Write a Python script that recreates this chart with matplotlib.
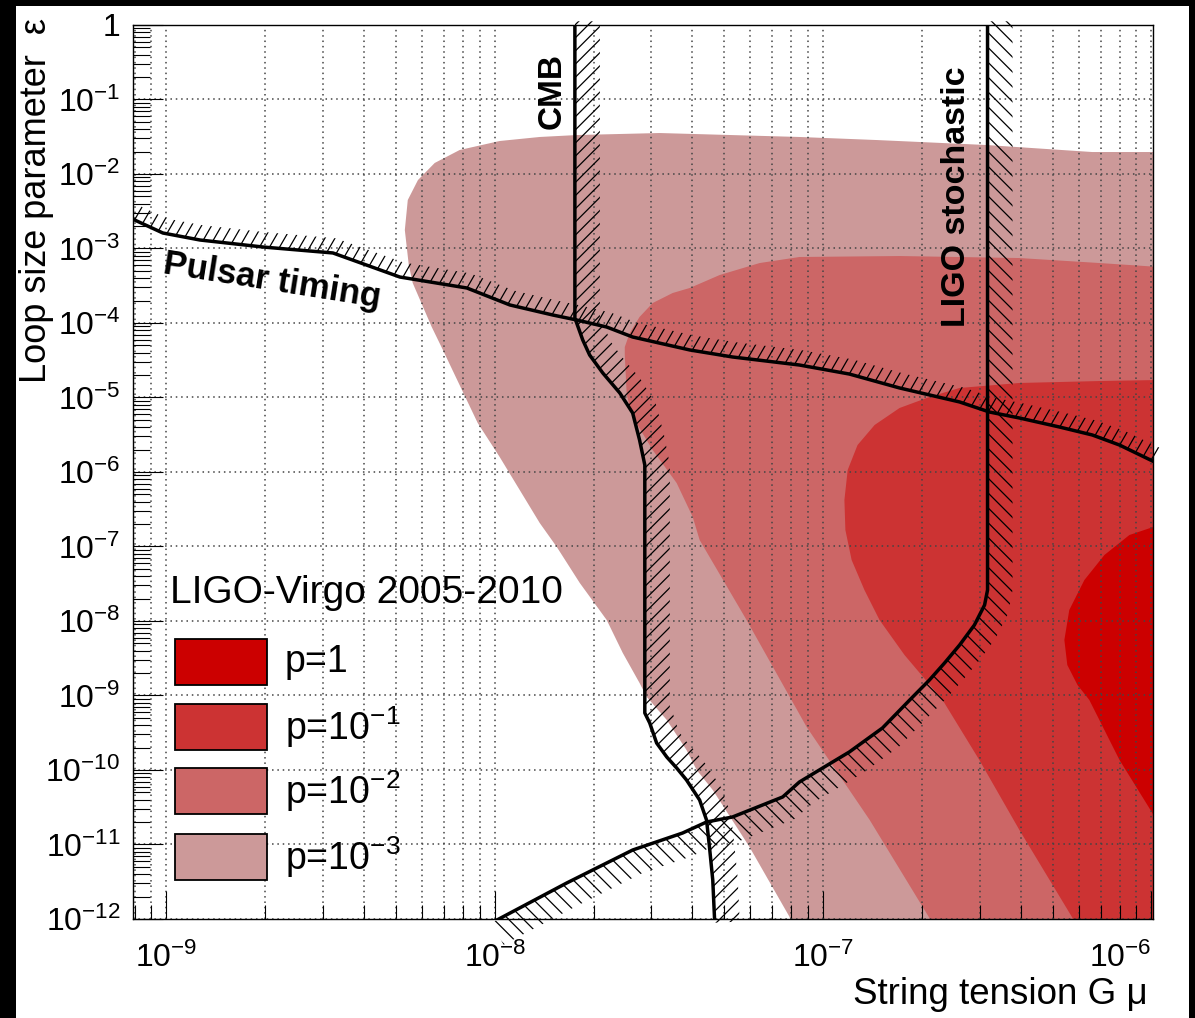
import numpy as np
import matplotlib
matplotlib.use('Agg')
import matplotlib.pyplot as plt
from matplotlib.patches import Polygon, Rectangle
from matplotlib.collections import LineCollection
from matplotlib.ticker import LogLocator, NullFormatter

plt.rcParams['font.family'] = 'Liberation Sans'
plt.rcParams['mathtext.fontset'] = 'custom'
plt.rcParams['mathtext.rm'] = 'Liberation Sans'
plt.rcParams['mathtext.it'] = 'Liberation Sans:italic'
plt.rcParams['mathtext.bf'] = 'Liberation Sans:bold'

# all curves are stored as log10(G mu), log10(epsilon)

# excluded regions (LIGO-Virgo 2005-2010) for each p value
p3_x = [-5.976, -6.180, -6.502, -6.837, -7.072, -7.498, -7.750, -7.863, -7.985, -8.107,
        -8.183, -8.234, -8.265, -8.274, -8.262, -8.250, -8.192, -8.158, -8.100, -8.052,
        -7.985, -7.924, -7.863, -7.811, -7.741, -7.659, -7.610, -7.559, -7.537, -7.476,
        -7.416, -7.385, -7.336, -7.224, -7.102, -7.096, -5.976]
p3_y = [-1.705, -1.705, -1.611, -1.544, -1.503, -1.450, -1.477, -1.503, -1.557, -1.678,
        -1.852, -2.081, -2.349, -2.752, -3.221, -3.463, -4.054, -4.362, -4.899, -5.342,
        -5.799, -6.242, -6.685, -7.007, -7.490, -7.987, -8.430, -8.832, -9.020, -9.329,
        -9.732, -10.000, -10.268, -11.034, -11.973, -12.081, -12.081]

p2_x = [-7.604, -7.604, -7.598, -7.580, -7.519, -7.446, -7.397, -7.376, -7.233, -7.050,
        -6.858, -6.676, -6.661, -5.976, -5.976, -6.158, -6.402, -6.767, -7.072, -7.193,
        -7.315, -7.406, -7.458, -7.519, -7.559, -7.589]
p2_y = [-4.322, -4.430, -4.966, -5.262, -5.705, -6.148, -6.604, -6.913, -7.987, -9.423,
        -10.671, -11.987, -12.081, -12.081, -3.248, -3.195, -3.128, -3.101, -3.114, -3.195,
        -3.356, -3.530, -3.597, -3.732, -3.919, -4.134]

p1_x = [-6.935, -6.932, -6.913, -6.874, -6.828, -6.752, -6.636, -6.524, -6.402, -6.240,
        -6.225, -5.976, -5.976, -6.158, -6.402, -6.584, -6.676, -6.767, -6.843, -6.895,
        -6.925]
p1_y = [-6.376, -6.779, -7.181, -7.584, -7.987, -8.456, -9.060, -9.866, -10.805, -11.987,
        -12.081, -12.081, -4.765, -4.779, -4.805, -4.872, -4.993, -5.141, -5.369, -5.638,
        -5.973]

p0_x = [-5.976, -6.067, -6.143, -6.204, -6.250, -6.265, -6.256, -6.225, -6.189, -6.097,
        -5.997, -5.976]
p0_y = [-6.711, -6.846, -7.114, -7.450, -7.852, -8.255, -8.591, -8.859, -9.060, -9.866,
        -10.577, -10.738]

# other constraints
pulsar_x = [-9.110, -9.011, -8.898, -8.706, -8.493, -8.289, -8.085, -7.954, -7.823, -7.750,
            -7.659, -7.580, -7.406, -7.276, -7.072, -6.920, -6.767, -6.584, -6.493, -6.402,
            -6.280, -6.180, -6.097, -5.990]
pulsar_y = [-2.591, -2.792, -2.886, -2.980, -3.060, -3.383, -3.530, -3.758, -3.893, -3.960,
            -4.054, -4.188, -4.362, -4.456, -4.564, -4.685, -4.872, -5.060, -5.195, -5.275,
            -5.396, -5.503, -5.638, -5.866]

cmb_x = [-7.756, -7.756, -7.732, -7.711, -7.671, -7.619, -7.580, -7.559, -7.543, -7.543,
         -7.528, -7.507, -7.476, -7.446, -7.416, -7.376, -7.355, -7.346, -7.336, -7.330]
cmb_y = [0.05, -3.933, -4.228, -4.430, -4.671, -4.940, -5.208, -5.570, -5.906, -9.235,
         -9.369, -9.638, -9.826, -9.973, -10.134, -10.403, -10.671, -11.034, -11.477, -12.05]

ligo_x = [-6.499, -6.499, -6.508, -6.539, -6.584, -6.630, -6.676, -6.736, -6.819, -6.920,
          -6.971, -7.072, -7.123, -7.276, -7.355, -7.428, -7.580, -7.781, -8.009]
ligo_y = [0.05, -7.584, -7.785, -8.054, -8.322, -8.564, -8.792, -9.060, -9.436, -9.758,
          -9.893, -10.161, -10.362, -10.631, -10.698, -10.846, -11.074, -11.517, -12.05]

p_labels = ['p=1', 'p=$10^{-1}$', 'p=$10^{-2}$', 'p=$10^{-3}$']
p_colors = ['#cc0000', '#cc3333', '#cc6666', '#cc9999']

x_ticks = [1e-9, 1e-8, 1e-7, 1e-6]
x_ticklabels = ['$10^{-9}$', '$10^{-8}$', '$10^{-7}$', '$10^{-6}$']
y_ticks = [10.0 ** k for k in range(-12, 1)]
y_ticklabels = ['$10^{%d}$' % k for k in range(-12, 0)] + ['1']

W, H = 1195, 1018
fig = plt.figure(figsize=(W / 100, H / 100), dpi=100, facecolor='black')
fig.add_artist(Rectangle((16 / W, 0), 1173 / W, 1012 / H, transform=fig.transFigure,
                         facecolor='white', edgecolor='none', zorder=-1))

ax = fig.add_axes([133 / W, 1 - 919 / H, 1020 / W, 894 / H])
ax.set_xscale('log')
ax.set_yscale('log')
ax.set_xlim(10 ** -9.102, 10 ** -5.995)
ax.set_ylim(1e-12, 1)
ax.set_autoscale_on(False)


def lin(v):
    return 10.0 ** np.asarray(v)


# filled exclusion regions, weakest p first
for xs, ys, c in [(p3_x, p3_y, p_colors[3]), (p2_x, p2_y, p_colors[2]),
                  (p1_x, p1_y, p_colors[1]), (p0_x, p0_y, p_colors[0])]:
    ax.fill(lin(xs), lin(ys), color=c, lw=0, zorder=1)


def hatched_curve(xs, ys, width, angle, spacing):
    # band on the left-hand side of the curve (walking order), filled with hatch strokes
    pts = ax.transData.transform(np.column_stack([lin(xs), lin(ys)]))
    d = np.gradient(pts, axis=0)
    d /= np.linalg.norm(d, axis=1)[:, None]
    n = np.column_stack([-d[:, 1], d[:, 0]])
    band = np.vstack([pts, (pts + width * n)[::-1]])
    patch = Polygon(ax.transData.inverted().transform(band), closed=True,
                    facecolor='none', edgecolor='none', transform=ax.transData)
    ax.add_patch(patch)

    bb = ax.bbox
    cx, cy = (bb.x0 + bb.x1) / 2, (bb.y0 + bb.y1) / 2
    R = np.hypot(bb.width, bb.height)
    t = np.deg2rad(angle)
    dv = np.array([np.cos(t), np.sin(t)])
    mv = np.array([-np.sin(t), np.cos(t)])
    segs = []
    for c in np.arange(-R, R, spacing):
        p0 = np.array([cx, cy]) + c * mv - R * dv
        p1 = np.array([cx, cy]) + c * mv + R * dv
        segs.append(ax.transAxes.inverted().transform(np.vstack([p0, p1])))
    lc = LineCollection(segs, colors='black', linewidths=0.9, transform=ax.transAxes, zorder=3)
    lc.set_clip_path(patch)
    ax.add_collection(lc, autolim=False)

    ax.plot(lin(xs), lin(ys), color='black', lw=2.5, zorder=4, solid_joinstyle='round')


hatched_curve(pulsar_x, pulsar_y, 15, 60, 8.7)
hatched_curve(cmb_x, cmb_y, 25, 45, 9.3)
hatched_curve(ligo_x, ligo_y, 25, -45, 10.5)

# axes, ticks and grid
for s in ax.spines.values():
    s.set_linewidth(1.0)
    s.set_zorder(5)

ax.set_xticks(x_ticks, labels=x_ticklabels)
ax.set_yticks(y_ticks, labels=y_ticklabels)
ax.xaxis.set_minor_locator(LogLocator(base=10, subs=np.arange(2, 10), numticks=50))
ax.yaxis.set_minor_locator(LogLocator(base=10, subs=np.arange(2, 10), numticks=50))
ax.xaxis.set_minor_formatter(NullFormatter())
ax.yaxis.set_minor_formatter(NullFormatter())

ax.tick_params(axis='x', which='major', direction='in', length=20, width=0.8, pad=17,
               labelsize=23, top=False)
ax.tick_params(axis='x', which='minor', direction='in', length=10, width=0.8, top=False)
ax.tick_params(axis='y', which='major', direction='in', length=21.5, width=0.8, pad=9,
               labelsize=23, right=False)
ax.tick_params(axis='y', which='minor', direction='in', length=12, width=0.8, right=False)
ax.xaxis.get_major_ticks()[3].label1.set_horizontalalignment('right')

ax.set_axisbelow(False)
grid_style = dict(color='#444444', linestyle=(0, (1, 2.5)), linewidth=1.1)
ax.grid(True, which='both', axis='x', **grid_style)
ax.grid(True, which='major', axis='y', **grid_style)

# curve labels
ax.text(1.5e-8, 0.13, 'CMB', rotation=90, ha='center', va='center',
        fontsize=24, fontweight='bold', zorder=6)
ax.text(2.55e-7, 5.0e-3, 'LIGO stochastic', rotation=90, ha='center', va='center',
        fontsize=24.5, fontweight='bold', zorder=6)
ax.text(2.1e-9, 3.7e-4, 'Pulsar timing', rotation=-9, ha='center', va='center',
        fontsize=25, fontweight='bold', zorder=6, rotation_mode='anchor')

# legend
ax.text(0.036, 0.365, 'LIGO-Virgo 2005-2010', transform=ax.transAxes, ha='left',
        va='center', fontsize=28, zorder=6)
box_bottoms = [0.2617, 0.1890, 0.1174, 0.0436]
for b, lab, c in zip(box_bottoms, p_labels, p_colors):
    ax.add_patch(Rectangle((0.0412, b), 0.0902, 0.0520, transform=ax.transAxes,
                           facecolor=c, edgecolor='black', lw=1.3, zorder=6))
    ax.text(0.149, b + 0.026, lab, transform=ax.transAxes, ha='left', va='center',
            fontsize=27, zorder=6)

# axis titles
fig.text(37 / W, 1 - 18 / H, 'Loop size parameter  \u03b5', rotation=90, ha='center',
         va='top', fontsize=26)
fig.text(1148 / W, 1 - 995 / H, 'String tension G \u03bc', ha='right', va='center',
         fontsize=26.5)

fig.savefig('out.png', dpi=100, facecolor=fig.get_facecolor())
